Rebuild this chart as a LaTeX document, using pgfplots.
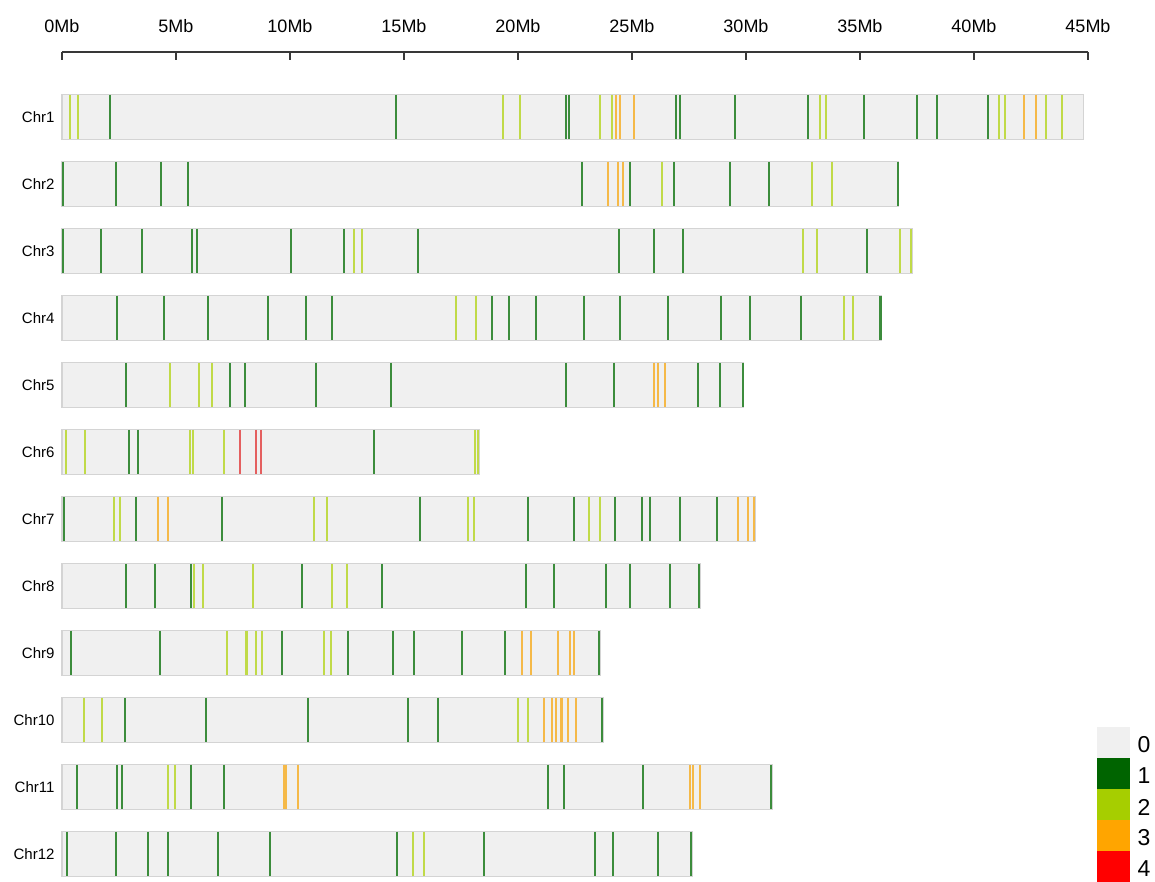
\documentclass[border=0pt]{standalone}
\usepackage{fontspec}
\setmainfont{Liberation Sans}
\usepackage{pgfplots}
\usepackage{pgfplotstable}
\pgfplotsset{compat=1.18}

\definecolor{c0}{RGB}{240,240,240}
\definecolor{c1}{RGB}{0,100,0}
\definecolor{c2}{RGB}{166,206,0}
\definecolor{c3}{RGB}{255,165,0}
\definecolor{c4}{RGB}{255,0,0}
\definecolor{l1}{RGB}{60,140,60}
\definecolor{l2}{RGB}{192,218,72}
\definecolor{l3}{RGB}{245,185,72}
\definecolor{l4}{RGB}{228,95,95}
\definecolor{bd}{RGB}{212,212,212}

% chromosome lengths (Mb)
\pgfplotstableread{
x y
44.80 -1
36.70 -2
37.30 -3
35.95 -4
29.90 -5
18.30 -6
30.40 -7
28.00 -8
23.60 -9
23.75 -10
31.15 -11
27.65 -12
}\chrlen

% density 1
\pgfplotstableread{
x y
2.09 -1
14.64 -1
22.12 -1
22.24 -1
26.92 -1
27.12 -1
29.52 -1
32.70 -1
35.16 -1
37.50 -1
38.38 -1
40.63 -1
0.05 -2
2.38 -2
4.34 -2
5.51 -2
22.82 -2
24.93 -2
26.86 -2
29.28 -2
31.01 -2
36.65 -2
0.05 -3
1.71 -3
3.49 -3
5.69 -3
5.92 -3
10.04 -3
12.35 -3
15.63 -3
24.43 -3
25.98 -3
27.24 -3
35.31 -3
2.41 -4
4.49 -4
6.39 -4
9.05 -4
10.72 -4
11.86 -4
18.87 -4
19.61 -4
20.80 -4
22.88 -4
24.49 -4
26.56 -4
28.90 -4
30.16 -4
32.41 -4
35.90 -4
2.82 -5
7.38 -5
8.03 -5
11.15 -5
14.43 -5
22.12 -5
24.23 -5
27.91 -5
28.85 -5
29.85 -5
2.94 -6
3.35 -6
13.70 -6
0.07 -7
3.26 -7
7.00 -7
15.72 -7
20.43 -7
22.47 -7
24.25 -7
25.45 -7
25.78 -7
27.12 -7
28.73 -7
2.82 -8
4.08 -8
5.64 -8
10.54 -8
14.02 -8
20.34 -8
21.59 -8
23.84 -8
24.93 -8
26.68 -8
27.95 -8
0.39 -9
4.28 -9
9.66 -9
12.56 -9
14.52 -9
15.45 -9
17.56 -9
19.43 -9
23.55 -9
2.76 -10
6.33 -10
10.77 -10
15.16 -10
16.48 -10
23.70 -10
0.66 -11
2.41 -11
2.65 -11
5.66 -11
7.12 -11
21.33 -11
22.03 -11
25.48 -11
31.10 -11
0.22 -12
2.38 -12
3.79 -12
4.63 -12
6.83 -12
9.14 -12
14.69 -12
18.52 -12
23.38 -12
24.17 -12
26.15 -12
27.60 -12
}\dA

% density 2
\pgfplotstableread{
x y
0.37 -1
0.72 -1
19.34 -1
20.07 -1
23.58 -1
24.14 -1
33.23 -1
33.52 -1
41.10 -1
41.36 -1
43.17 -1
43.84 -1
26.30 -2
32.88 -2
33.76 -2
12.82 -3
13.17 -3
32.50 -3
33.11 -3
36.74 -3
37.25 -3
17.29 -4
18.17 -4
34.28 -4
34.69 -4
4.75 -5
6.01 -5
6.56 -5
0.19 -6
1.01 -6
5.60 -6
5.75 -6
7.09 -6
18.12 -6
18.25 -6
2.27 -7
2.53 -7
11.04 -7
11.62 -7
17.82 -7
18.06 -7
23.11 -7
23.58 -7
5.80 -8
6.18 -8
8.38 -8
11.83 -8
12.50 -8
7.24 -9
8.09 -9
8.52 -9
8.76 -9
11.48 -9
11.80 -9
0.95 -10
1.74 -10
19.99 -10
20.43 -10
4.66 -11
4.96 -11
15.39 -12
15.89 -12
}\dB

% density 3
\pgfplotstableread{
x y
24.31 -1
24.49 -1
25.07 -1
42.18 -1
42.70 -1
23.93 -2
24.40 -2
24.60 -2
25.98 -5
26.15 -5
26.45 -5
4.23 -7
4.63 -7
29.66 -7
30.07 -7
30.35 -7
20.16 -9
20.57 -9
21.74 -9
22.27 -9
22.47 -9
21.13 -10
21.48 -10
21.68 -10
21.91 -10
22.21 -10
22.56 -10
9.72 -11
9.84 -11
10.37 -11
27.53 -11
27.68 -11
27.97 -11
}\dC

% density 4
\pgfplotstableread{
x y
7.79 -6
8.52 -6
8.73 -6
}\dD

\begin{document}
\begin{tikzpicture}
\useasboundingbox (0,0) rectangle (1155pt,-882pt);
\begin{axis}[
  at={(62pt,-882pt)}, anchor=south west,
  scale only axis, width=1026pt, height=830pt,
  xmin=0, xmax=45, ymin=-12.418, ymax=-0.03,
  axis x line*=top, axis y line*=left,
  y axis line style={draw=none},
  x axis line style={line width=1.4pt, color=black!78},
  xtick={0,5,10,15,20,25,30,35,40,45},
  xticklabels={0Mb,5Mb,10Mb,15Mb,20Mb,25Mb,30Mb,35Mb,40Mb,45Mb},
  tick align=inside,
  major tick length=8pt,
  xtick style={line width=1.4pt, color=black!78},
  ytick={-12,-11,-10,-9,-8,-7,-6,-5,-4,-3,-2,-1},
  yticklabels={Chr12,Chr11,Chr10,Chr9,Chr8,Chr7,Chr6,Chr5,Chr4,Chr3,Chr2,Chr1},
  ytick style={draw=none},
  xticklabel style={font=\fontsize{18}{20}\selectfont, yshift=16pt},
  yticklabel style={font=\fontsize{15}{17}\selectfont, xshift=-4pt},
  clip=false,
]
\addplot[xbar, bar width=0.67, fill=c0, draw=bd, line width=1.3pt] table[x=x,y=y]{\chrlen};
\addplot[l1, only marks, mark=|, mark size=22.2pt, mark options={line width=2.1pt}] table[x=x,y=y]{\dA};
\addplot[l2, only marks, mark=|, mark size=22.2pt, mark options={line width=2.1pt}] table[x=x,y=y]{\dB};
\addplot[l3, only marks, mark=|, mark size=22.2pt, mark options={line width=2.1pt}] table[x=x,y=y]{\dC};
\addplot[l4, only marks, mark=|, mark size=22.2pt, mark options={line width=2.1pt}] table[x=x,y=y]{\dD};
\end{axis}
% legend
\fill[c0] (1097pt,-727pt) rectangle (1130pt,-758pt);
\fill[c1] (1097pt,-758pt) rectangle (1130pt,-789pt);
\fill[c2] (1097pt,-789pt) rectangle (1130pt,-820pt);
\fill[c3] (1097pt,-820pt) rectangle (1130pt,-851pt);
\fill[c4] (1097pt,-851pt) rectangle (1130pt,-882pt);
\node[font=\fontsize{23}{25}\selectfont, inner sep=0pt] at (1144pt,-745pt) {0};
\node[font=\fontsize{23}{25}\selectfont, inner sep=0pt] at (1144pt,-776pt) {1};
\node[font=\fontsize{23}{25}\selectfont, inner sep=0pt] at (1144pt,-807pt) {2};
\node[font=\fontsize{23}{25}\selectfont, inner sep=0pt] at (1144pt,-838pt) {3};
\node[font=\fontsize{23}{25}\selectfont, inner sep=0pt] at (1144pt,-869pt) {4};
\end{tikzpicture}
\end{document}
